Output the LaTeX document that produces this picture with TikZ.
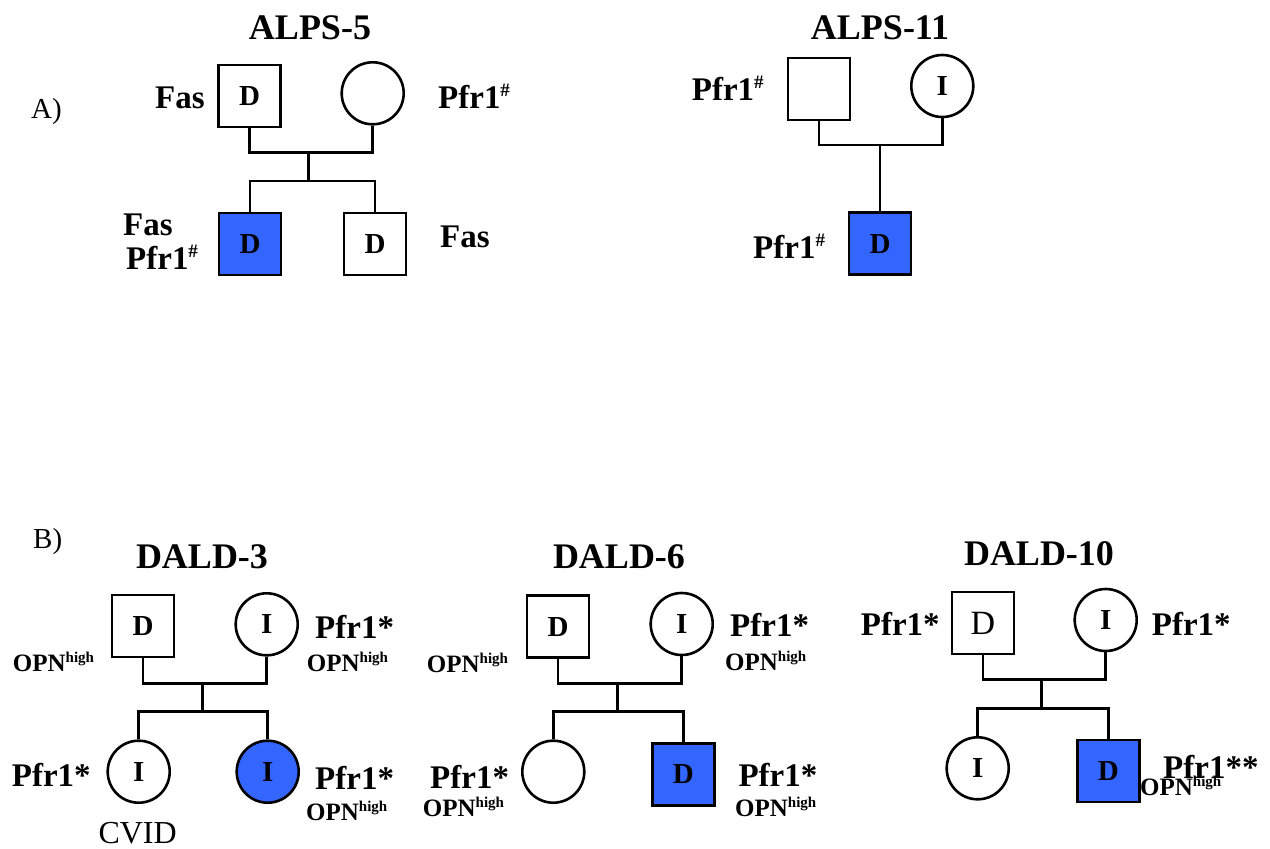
\documentclass[tikz,border=0pt]{standalone}
\usepackage{fontspec}
\setmainfont{Liberation Serif}
\definecolor{affblue}{RGB}{51,102,255}
\newcommand{\fsz}[1]{\fontsize{#1}{#1}\selectfont}
\newcommand{\hashsup}{\raisebox{12pt}{\fsz{19}\#}}
\newcommand{\opnhigh}{{\fsz{25}\bfseries OPN\raisebox{9pt}{\fsz{15}high}}}
\tikzset{
  member/.style={draw=black, line width=2.6pt, minimum size=62pt, inner sep=0pt, font=\fsz{29}\bfseries},
  male/.style={member, rectangle},
  female/.style={member, circle},
  affected/.style={fill=affblue},
  lbl/.style={anchor=base west, inner sep=0pt, font=\fsz{33}\bfseries},
  ttl/.style={anchor=base, inner sep=0pt, font=\fsz{36}\bfseries},
  panel/.style={anchor=base west, inner sep=0pt, font=\fsz{29}},
  link/.style={line width=2.6pt}
}
\begin{document}
\begin{tikzpicture}[x=1pt,y=-1pt]
\useasboundingbox (0,0) rectangle (1270,849);
\fill[white] (0,0) rectangle (1270,849);

% ---------- A) ----------
\node[panel] (pa) at (31,118) {A)};

% ALPS-5
\node[ttl] (t5) at (310,39) {ALPS-5};
\node[male] (f5) at (249.5,96) {D};
\node[female] (m5) at (372.7,93.3) {};
\coordinate (u5) at (308.3,152.3);
\coordinate (s5) at (308.3,181);
\node[male,affected] (c5a) at (250,244) {D};
\node[male] (c5b) at (375,244) {D};
\draw[link] (f5.south) |- (u5) -| (m5.south);
\draw[link] (u5) -- (s5);
\draw[link] (c5a.north) |- (s5) -| (c5b.north);
\node[lbl] (l5a) at (155,108) {Fas};
\node[lbl] (l5b) at (438,108) {Pfr1\hashsup};
\node[lbl] (l5c) at (123,235) {Fas};
\node[lbl] (l5d) at (126,269) {Pfr1\hashsup};
\node[lbl] (l5e) at (440,247) {Fas};

% ALPS-11
\node[ttl] (t11) at (880,39) {ALPS-11};
\node[male] (f11) at (819,89) {};
\node[female] (m11) at (942.3,86) {I};
\coordinate (u11) at (880,145);
\node[male,affected] (c11) at (880,243.7) {D};
\draw[link] (f11.south) |- (u11) -| (m11.south);
\draw[link] (u11) -- (c11.north);
\node[lbl] (l11a) at (691.7,100) {Pfr1\hashsup};
\node[lbl] (l11b) at (753,258) {Pfr1\hashsup};

% ---------- B) ----------
\node[panel] (pb) at (33,548.3) {B)};

% DALD-3
\node[ttl] (t3) at (202,568) {DALD-3};
\node[male] (f3) at (143,626) {D};
\node[female] (m3) at (266.7,624.3) {I};
\coordinate (u3) at (202.3,683.3);
\coordinate (s3) at (202.3,711.7);
\node[female] (c3a) at (138.7,771.7) {I};
\node[female,affected] (c3b) at (267.7,771.7) {I};
\draw[link] (f3.south) |- (u3) -| (m3.south);
\draw[link] (u3) -- (s3);
\draw[link] (c3a.north) |- (s3) -| (c3b.north);
\node[lbl] (l3a) at (12.7,671.7) {\opnhigh};
\node[lbl] (l3b) at (315,638.3) {Pfr1*};
\node[lbl] (l3c) at (306.7,671.7) {\opnhigh};
\node[lbl] (l3d) at (11.7,786.7) {Pfr1*};
\node[panel, font=\fsz{32}] (l3e) at (98.3,843.3) {CVID};
\node[lbl] (l3f) at (315,789.3) {Pfr1*};
\node[lbl] (l3g) at (306,820) {\opnhigh};

% DALD-6
\node[ttl] (t6) at (619,568) {DALD-6};
\node[male] (f6) at (558,626.7) {D};
\node[female] (m6) at (681.7,624) {I};
\coordinate (u6) at (617.3,683.3);
\coordinate (s6) at (617.3,711.7);
\node[female] (c6a) at (553.3,771.7) {};
\node[male,affected] (c6b) at (683.3,774.5) {D};
\draw[link] (f6.south) |- (u6) -| (m6.south);
\draw[link] (u6) -- (s6);
\draw[link] (c6a.north) |- (s6) -| (c6b.north);
\node[lbl] (l6a) at (426.7,672.7) {\opnhigh};
\node[lbl] (l6b) at (730,636) {Pfr1*};
\node[lbl] (l6c) at (725,670) {\opnhigh};
\node[lbl] (l6d) at (430,788.3) {Pfr1*};
\node[lbl] (l6e) at (422.7,816.7) {\opnhigh};
\node[lbl] (l6f) at (738.3,786) {Pfr1*};
\node[lbl] (l6g) at (735,816.7) {\opnhigh};

% DALD-10
\node[ttl] (t10) at (1039,565) {DALD-10};
\node[male, font=\fsz{34}] (f10) at (983,623) {D};
\node[female] (m10) at (1105.7,620) {I};
\coordinate (u10) at (1041.3,679.3);
\coordinate (s10) at (1041.3,708.3);
\node[female] (c10a) at (977.7,768.3) {I};
\node[male,affected] (c10b) at (1108.3,770.8) {D};
\draw[link] (f10.south) |- (u10) -| (m10.south);
\draw[link] (u10) -- (s10);
\draw[link] (c10a.north) |- (s10) -| (c10b.north);
\node[lbl] (l10a) at (860.7,635) {Pfr1*};
\node[lbl] (l10b) at (1151.7,635) {Pfr1*};
\node[lbl] (l10c) at (1163,778) {Pfr1**};
\node[lbl] (l10d) at (1140,795) {\opnhigh};
\end{tikzpicture}
\end{document}
